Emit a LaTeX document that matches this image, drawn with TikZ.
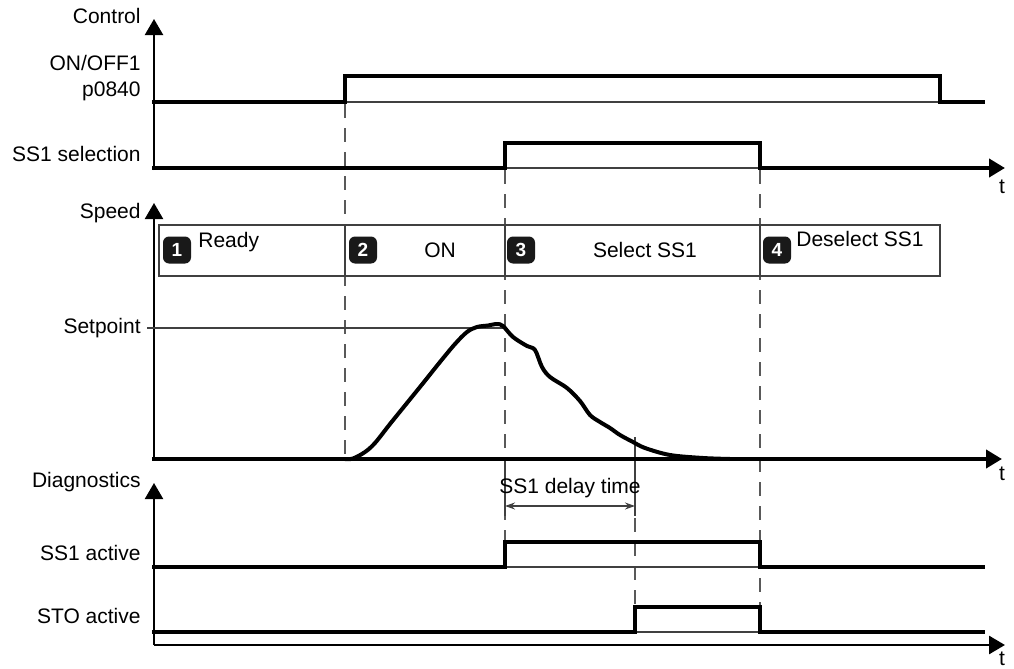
\documentclass[tikz,border=0pt]{standalone}
\usepackage{fontspec}
\setmainfont{Liberation Sans}
\usetikzlibrary{arrows.meta, positioning}

\begin{document}
\begin{tikzpicture}[
		x=0.5pt, y=-0.5pt,
		font=\fontsize{10.5}{12.6}\selectfont,
		signal/.style={line width=2pt},
		tip/.style={-{Triangle[length=8pt, width=9pt]}},
		axisline/.style={line width=1.1pt, tip},
		thinline/.style={line width=0.6pt, black!75},
		guide/.style={line width=0.6pt, black!65, dash pattern=on 7pt off 5pt},
		rowtext/.style={anchor=base east, inner sep=0pt},
		phasetext/.style={anchor=base west, inner sep=0pt},
		badge/.style={
			fill=black!90,
			text=white,
			rounded corners=3pt,
			minimum width=14pt,
			minimum height=13.5pt,
			inner sep=0pt,
			font=\fontsize{9.5}{9.5}\selectfont\bfseries
		}
		]
		
		\useasboundingbox (0,0) rectangle (1014,669);
		
		% axis ends
		\coordinate (ctrlO) at (154,170);
		\coordinate (ctrlTip) at (154,19);
		\coordinate (spdO) at (154,459);
		\coordinate (spdTip) at (154,203);
		\coordinate (diagO) at (154,645);
		\coordinate (diagTip) at (154,483);
		\coordinate (ctrlT) at (1005,168);
		\coordinate (spdT) at (1002,459);
		\coordinate (diagT) at (1005,645);
		
		% row labels
		\node[rowtext] (control) at (141,24) {Control};
		\node[rowtext] (onoff) at (141,70) {ON/OFF1};
		\node[rowtext] (param) at (141,97) {p0840};
		\node[rowtext] (sssel) at (141,162) {SS1 selection};
		\node[rowtext] (speed) at (141,218) {Speed};
		\node[rowtext] (setpt) at (141,333) {Setpoint};
		\node[rowtext] (diag) at (141,487) {Diagnostics};
		\node[rowtext] (ssact) at (141,560) {SS1 active};
		\node[rowtext] (stoact) at (141,623) {STO active};
		\node[anchor=base, inner sep=0pt] (tctrl) at (1002,193) {t};
		\node[anchor=base, inner sep=0pt] (tspd) at (1002,480) {t};
		\node[anchor=base, inner sep=0pt] (tdiag) at (1002,665) {t};
		
		% guide lines
		\draw[guide] (345,104) -- (345,459);
		\draw[guide] (505,170) -- (505,540);
		\draw[guide] (760,170) -- (760,605);
		\draw[guide] (635,518) -- (635,605);
		
		% phases
		\draw[thinline, fill=white] (159,225) rectangle (940,276);
		\foreach \px in {345,505,760}
			\draw[thinline] (\px,225) -- (\px,276);
		\node[badge] (ph1) at (177,250) {1};
		\node[badge] (ph2) at (363,250) {2};
		\node[badge] (ph3) at (521,250) {3};
		\node[badge] (ph4) at (777,250) {4};
		\node[phasetext] (ready) at (198,247) {Ready};
		\node[anchor=base, inner sep=0pt] (on) at (440,257) {ON};
		\node[anchor=base, inner sep=0pt] (sel) at (645,257) {Select SS1};
		\node[phasetext] (desel) at (796,246) {Deselect SS1};
		
		% axes
		\draw[axisline] (ctrlO) -- (ctrlTip);
		\draw[axisline] (spdO) -- (spdTip);
		\draw[axisline] (diagO) -- (diagTip);
		\draw[axisline, line width=1.4pt] (diagO) -- (diagT);
		
		% setpoint and delay time
		\draw[thinline] (147,328) -- (505,328);
		\draw[thinline] (505,459) -- (505,516);
		\draw[thinline] (635,437) -- (635,516);
		\coordinate (dl) at (505,506);
		\coordinate (dr) at (635,506);
		\draw[thinline, {Stealth[length=5pt, width=3.5pt]}-{Stealth[length=5pt, width=3.5pt]}] (dl) -- (dr);
		\node[anchor=base, inner sep=0pt] (delay) at (570,493) {SS1 delay time};
		
		% signals
		\draw[thinline] (345,102) -- (940,102);
		\draw[signal] (152,102) -- (345,102) -- (345,76) -- (940,76) -- (940,102) -- (985,102);
		\draw[thinline] (505,168) -- (760,168);
		\draw[signal, tip] (152,168) -- (505,168) -- (505,143) -- (760,143) -- (760,168) -- (ctrlT);
		\draw[signal, tip] (152,459) -- (spdT);
		\draw[signal, line join=round] plot[smooth, tension=0.55] coordinates {
			(345,459) (353,458.5) (365,452) (375,443) (390,424) (407,403) (424,382)
			(440,362) (455,344) (467,332) (477,327) (488,325.5) (497,324) (503,326)
			(513,337) (527,346) (535,350) (542,367) (550,377) (567,388) (580,401)
			(590,415) (600,422) (610,428) (620,435) (633,442) (645,448) (670,455)
			(703,458) (730,459)};
		\draw[thinline] (505,567) -- (760,567);
		\draw[signal] (152,567) -- (505,567) -- (505,542) -- (760,542) -- (760,567) -- (985,567);
		\draw[thinline] (635,632) -- (760,632);
		\draw[signal] (152,632) -- (635,632) -- (635,607) -- (760,607) -- (760,632) -- (985,632);
		
	\end{tikzpicture}
\end{document}
